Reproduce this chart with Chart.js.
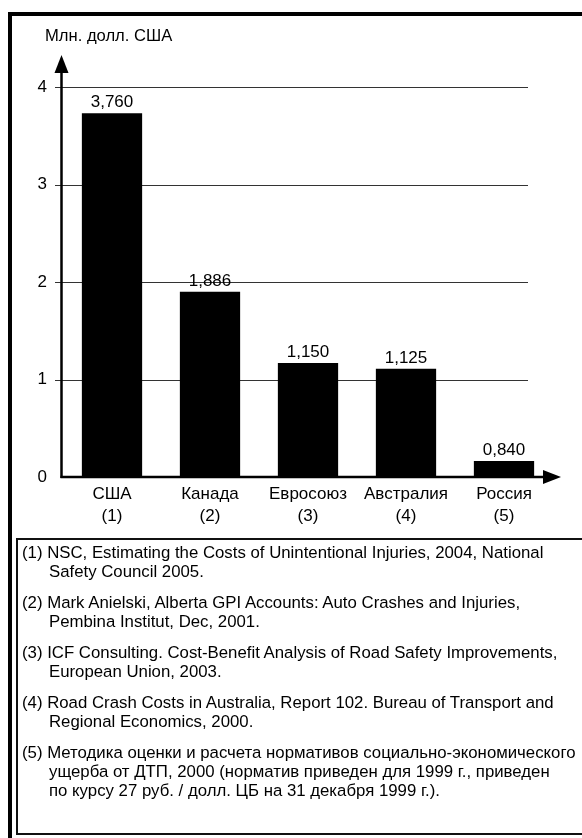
<!DOCTYPE html>
<html>
<head>
<meta charset="utf-8">
<script src="https://cdn.jsdelivr.net/npm/chart.js@4"></script>
<style>
  body { margin: 0; background: #fff; font-family: "Liberation Sans", Arial, sans-serif; }
  #chart { position: absolute; left: 0; top: 0; }
  .frame { position: absolute; left: 8px; top: 12px; width: 600px; height: 900px; border: 4px solid #000; }
  .notes { position: absolute; left: 16px; top: 538px; width: 600px; height: 293px; border: 2px solid #111;
           font-size: 16.8px; line-height: 19px; color: #000; }
  .notes p { margin: 0 0 12px 0; white-space: nowrap; padding-left: 31px; text-indent: -27px; }
  .notes p:first-child { margin-top: 3px; }
</style>
</head>
<body>
<canvas id="chart" width="582" height="538"></canvas>
<div class="frame"></div>
<div class="notes">
  <p>(1) NSC, Estimating the Costs of Unintentional Injuries, 2004, National<br>Safety Council 2005.</p>
  <p>(2) Mark Anielski, Alberta GPI Accounts: Auto Crashes and Injuries,<br>Pembina Institut, Dec, 2001.</p>
  <p>(3) ICF Consulting. Cost-Benefit Analysis of Road Safety Improvements,<br>European Union, 2003.</p>
  <p>(4) Road Crash Costs in Australia, Report 102. Bureau of Transport and<br>Regional Economics, 2000.</p>
  <p>(5) Методика оценки и расчета нормативов социально-экономического<br>ущерба от ДТП, 2000 (норматив приведен для 1999 г., приведен<br>по курсу 27 руб. / долл. ЦБ на 31 декабря 1999 г.).</p>
</div>
<script>
// chart data
const categories = ['США', 'Канада', 'Евросоюз', 'Австралия', 'Россия'];
const refNums = ['(1)', '(2)', '(3)', '(4)', '(5)'];
const barValues = [3.73, 1.9, 1.17, 1.11, 0.165];
const valueLabels = ['3,760', '1,886', '1,150', '1,125', '0,840'];
const yTicks = [0, 1, 2, 3, 4];
const yTitle = 'Млн. долл. США';

const FONT = '"Liberation Sans", Arial, sans-serif';

// gridlines, axes with arrows, value labels, title
const decor = {
  id: 'decor',
  beforeDatasetsDraw(chart) {
    const ctx = chart.ctx;
    const y = chart.scales.y;
    ctx.save();
    ctx.strokeStyle = '#333';
    ctx.lineWidth = 1;
    yTicks.forEach(function(v) {
      if (v === 0) return;
      const py = Math.round(y.getPixelForValue(v)) + 0.5;
      ctx.beginPath();
      ctx.moveTo(55, py);
      ctx.lineTo(528, py);
      ctx.stroke();
    });
    ctx.restore();
  },
  afterDatasetsDraw(chart) {
    const ctx = chart.ctx;
    const y = chart.scales.y;
    const y0 = y.getPixelForValue(0);
    const ax = 61.5;
    ctx.save();
    ctx.strokeStyle = '#000';
    ctx.fillStyle = '#000';
    ctx.lineWidth = 2.5;
    // y axis
    ctx.beginPath();
    ctx.moveTo(ax, y0 + 1);
    ctx.lineTo(ax, 70);
    ctx.stroke();
    ctx.beginPath();
    ctx.moveTo(ax, 55);
    ctx.lineTo(ax - 7, 73);
    ctx.lineTo(ax + 7, 73);
    ctx.closePath();
    ctx.fill();
    // x axis
    ctx.beginPath();
    ctx.moveTo(ax - 1, y0);
    ctx.lineTo(545, y0);
    ctx.stroke();
    ctx.beginPath();
    ctx.moveTo(561, y0);
    ctx.lineTo(543, y0 - 7);
    ctx.lineTo(543, y0 + 7);
    ctx.closePath();
    ctx.fill();

    // value labels
    ctx.font = '17px ' + FONT;
    ctx.textAlign = 'center';
    ctx.textBaseline = 'alphabetic';
    chart.getDatasetMeta(0).data.forEach(function(bar, i) {
      ctx.fillText(valueLabels[i], bar.x, bar.y - 6);
    });

    // title
    ctx.font = '16.6px ' + FONT;
    ctx.textAlign = 'left';
    ctx.fillText(yTitle, 45, 41);
    ctx.restore();
  }
};

new Chart(document.getElementById('chart'), {
  type: 'bar',
  data: {
    labels: categories.map(function(c, i) { return [c, refNums[i]]; }),
    datasets: [{
      data: barValues,
      backgroundColor: '#000',
      borderWidth: 0,
      barPercentage: 0.615,
      categoryPercentage: 1
    }]
  },
  options: {
    responsive: false,
    animation: false,
    devicePixelRatio: 1,
    layout: { padding: { top: 87, right: 29, left: 0, bottom: 0 } },
    plugins: {
      legend: { display: false },
      tooltip: { enabled: false }
    },
    scales: {
      x: {
        grid: { display: false, drawTicks: false },
        border: { display: false },
        ticks: {
          color: '#000',
          font: { family: FONT, size: 17, lineHeight: 1.3 },
          padding: 6,
          maxRotation: 0,
          autoSkip: false
        },
        afterFit: function(scale) { scale.height = 61; }
      },
      y: {
        min: 0,
        max: 4,
        grid: { display: false, drawTicks: false },
        border: { display: false },
        ticks: {
          stepSize: 1,
          color: '#000',
          font: { family: FONT, size: 17 },
          padding: 16
        },
        afterFit: function(scale) { scale.height = scale.height; scale.width = 63; }
      }
    }
  },
  plugins: [decor]
});
</script>
</body>
</html>
